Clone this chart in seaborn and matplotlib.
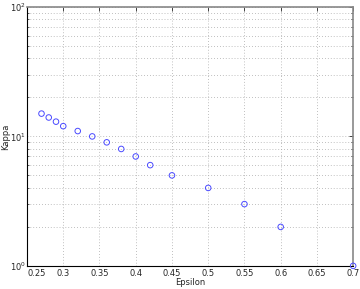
import matplotlib
matplotlib.use("Agg")
import matplotlib.pyplot as plt
import seaborn as sns
import pandas as pd
from matplotlib.ticker import LogLocator, NullFormatter

# values
epsilon = [0.27, 0.28, 0.29, 0.30, 0.32, 0.34, 0.36, 0.38, 0.40, 0.42, 0.45, 0.50, 0.55, 0.60, 0.70]
kappa = [15, 14, 13, 12, 11, 10, 9, 8, 7, 6, 5, 4, 3, 2, 1]
xticks = [0.25, 0.3, 0.35, 0.4, 0.45, 0.5, 0.55, 0.6, 0.65, 0.7]
xticklabels = ["0.25", "0.3", "0.35", "0.4", "0.45", "0.5", "0.55", "0.6", "0.65", "0.7"]

df = pd.DataFrame({"Epsilon": epsilon, "Kappa": kappa})

sns.set_style("white")
plt.rcParams['font.family'] = ['DejaVu Sans']
plt.rcParams['mathtext.fontset'] = 'dejavusans'

fig = plt.figure(figsize=(3.6, 2.89), dpi=100)
ax = fig.add_axes([0.075, 0.080, 0.906, 0.896])

sns.scatterplot(data=df, x="Epsilon", y="Kappa", marker="o", s=16,
                facecolors="none", edgecolor="#4a4aff", linewidth=0.7,
                ax=ax, clip_on=False, zorder=5)

ax.set_yscale("log")
ax.set_xlim(0.25, 0.7)
ax.set_ylim(1, 100)
ax.set_xticks(xticks)
ax.set_xticklabels(xticklabels)
ax.get_xticklabels()[0].set_ha("left")
ax.yaxis.set_major_locator(LogLocator(base=10))
ax.yaxis.set_minor_locator(LogLocator(base=10, subs=range(2, 10)))
ax.yaxis.set_minor_formatter(NullFormatter())

ax.grid(True, which="major", linestyle=(0, (1, 2.5)), color="#aaaaaa", linewidth=0.6)
ax.grid(True, which="minor", axis="y", linestyle=(0, (1, 2.5)), color="#aaaaaa", linewidth=0.6)

ax.tick_params(direction="in", labelsize=6, length=3, width=0.6, pad=2,
               top=True, right=True)
ax.tick_params(axis="y", pad=1)
ax.tick_params(which="minor", direction="in", length=1.5, width=0.5, right=True, left=True)

for side in ["left", "bottom"]:
    ax.spines[side].set_color("black")
    ax.spines[side].set_linewidth(0.8)
for side in ["top", "right"]:
    ax.spines[side].set_color("#888888")
    ax.spines[side].set_linewidth(1.2)

ax.set_xlabel("Epsilon", fontsize=6, labelpad=0)
ax.set_ylabel("Kappa", fontsize=6)
ax.yaxis.set_label_coords(-0.053, 0.5)

fig.savefig("out.png", dpi=100)
